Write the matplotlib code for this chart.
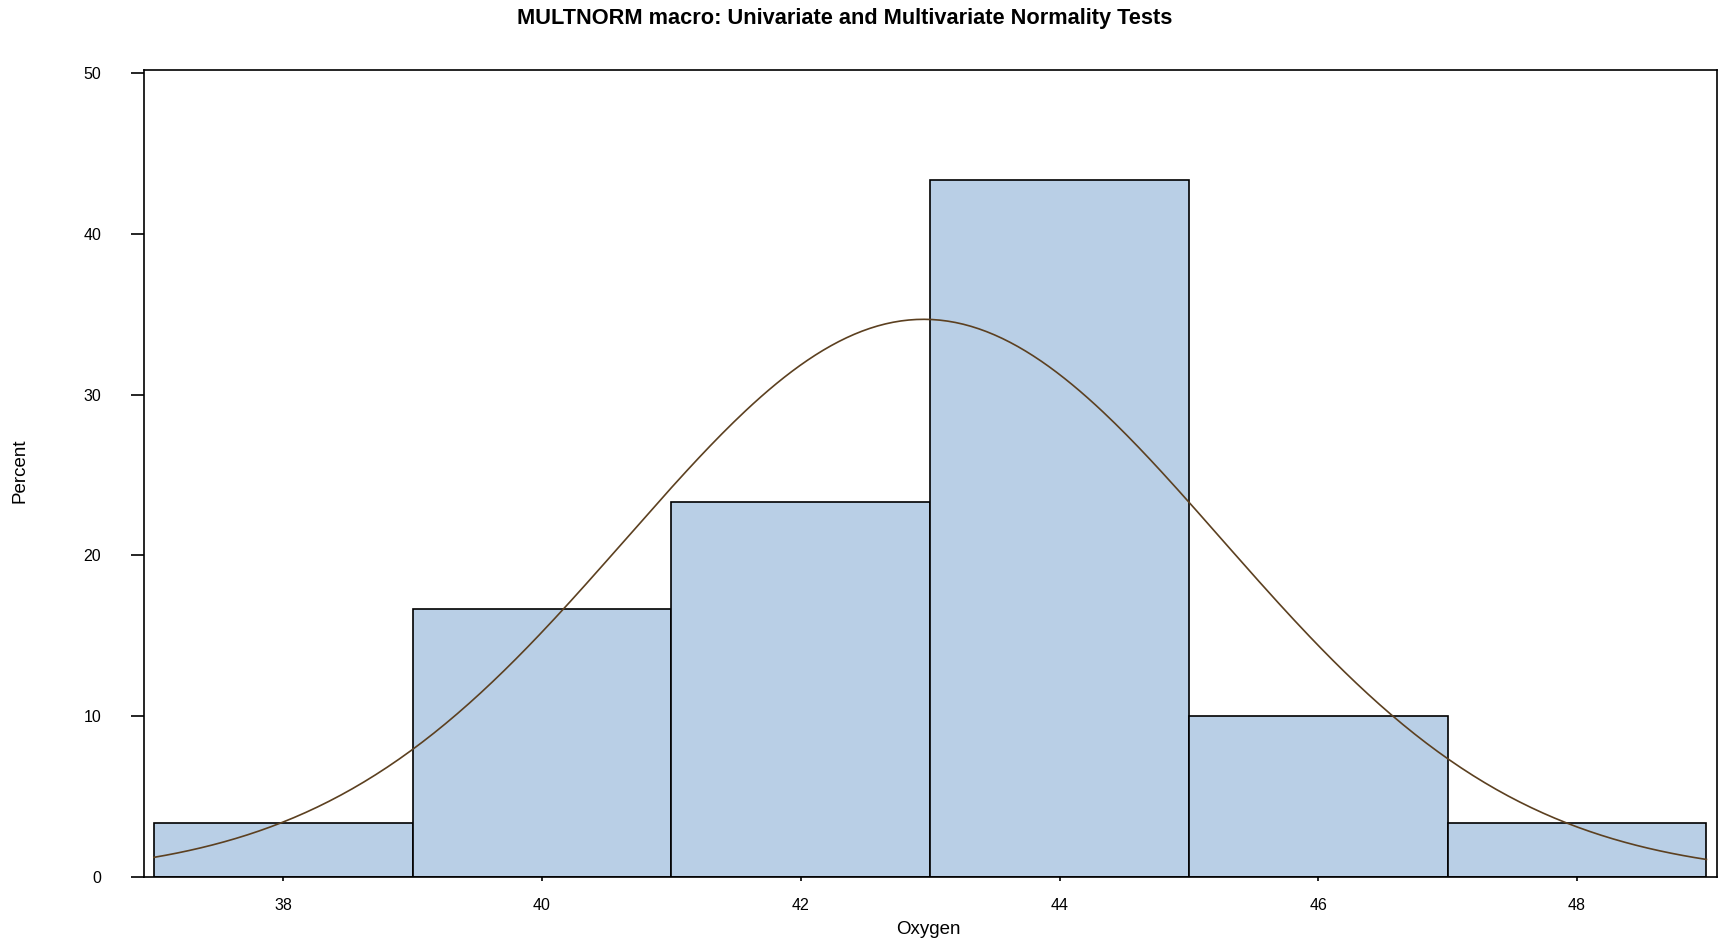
import numpy as np
import matplotlib
matplotlib.use('Agg')
import matplotlib.pyplot as plt

plt.rcParams['font.family'] = ['Liberation Sans', 'DejaVu Sans']

# histogram of Oxygen (percent per bin)
bin_left = [37, 39, 41, 43, 45, 47]
bin_width = 2
percent = [3.33, 16.67, 23.33, 43.33, 10.0, 3.33]

# fitted normal curve (parameters)
mu = 42.95
sigma = 2.30

fig = plt.figure(figsize=(17.19, 9.42), dpi=100)
ax = fig.add_axes([0.0835, 0.069, 0.9152, 0.8567])

ax.bar(bin_left, percent, width=bin_width, align='edge',
       color='#b9cfe6', edgecolor='black', linewidth=1.2, zorder=2)

xs = np.linspace(37, 49, 400)
dens = 100 * bin_width * np.exp(-0.5 * ((xs - mu) / sigma) ** 2) / (sigma * np.sqrt(2 * np.pi))
ax.plot(xs, dens, color='#5c4020', linewidth=1.2, zorder=3)

ax.set_xlim(36.92, 49.08)
ax.set_ylim(0, 50.2)
ax.set_xticks([38, 40, 42, 44, 46, 48])
ax.set_yticks([0, 10, 20, 30, 40, 50])

for s in ax.spines.values():
    s.set_linewidth(1.2)
    s.set_color('black')

ax.tick_params(axis='y', direction='out', length=9.5, width=1.2, pad=21, labelsize=11.5)
ax.tick_params(axis='x', direction='out', length=3, width=1.2, pad=12, labelsize=11.5)

fig.text(0.4912, 0.980, 'MULTNORM macro: Univariate and Multivariate Normality Tests',
         ha='center', va='center', fontsize=15.7, fontweight='bold')
fig.text(0.5402, 0.013, 'Oxygen', ha='center', va='center', fontsize=13.5)
fig.text(0.0116, 0.5, 'Percent', ha='center', va='center', rotation=90, fontsize=13.5)

fig.savefig('out.png', dpi=100)
